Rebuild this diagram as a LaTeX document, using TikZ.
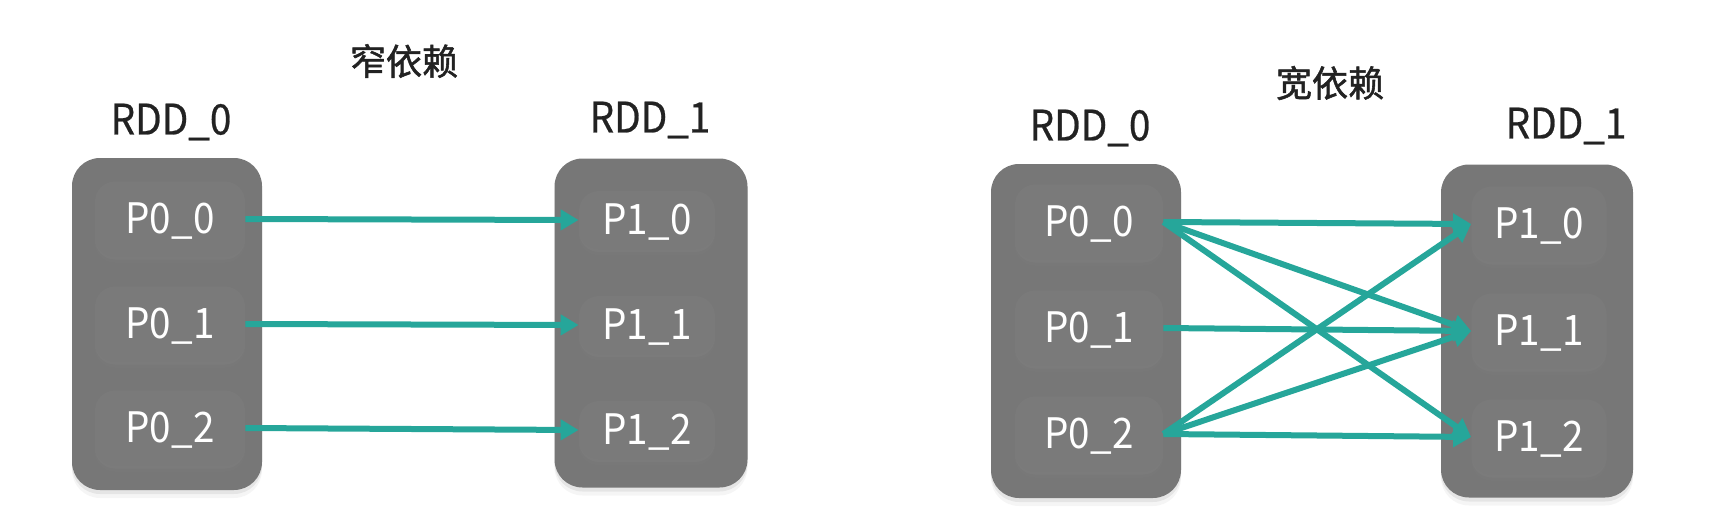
\documentclass[tikz,border=0pt]{standalone}
\usepackage{fontspec}
\setmainfont{Noto Sans CJK SC}
\newfontfamily\partfont[FakeStretch=0.92]{Noto Sans CJK SC}
\newfontfamily\namefont[FakeStretch=0.92,FakeBold=0.6]{Noto Sans CJK SC}
\newfontfamily\headfont[FakeBold=1.5]{Noto Sans CJK SC}
\usetikzlibrary{arrows.meta,shadows}
\definecolor{boxgray}{RGB}{119,119,119}
\definecolor{partgray}{RGB}{122,122,122}
\definecolor{depteal}{RGB}{38,166,154}
\definecolor{ink}{RGB}{34,34,34}
\newcommand\bigtext{\partfont\fontsize{21}{25}\selectfont}

\begin{document}
\begin{tikzpicture}[x=0.5pt, y=-0.5pt,
    rddbox/.style={fill=boxgray, rounded corners=14pt, inner sep=0pt,
        drop shadow={shadow xshift=0pt, shadow yshift=-2pt, opacity=.14},
        drop shadow={shadow xshift=0pt, shadow yshift=-4pt, opacity=.08}},
    part/.style={fill=partgray, rounded corners=10pt, inner sep=0pt, text=white,
        font=\bigtext, text height=14pt, text depth=0pt,
        drop shadow={shadow xshift=0pt, shadow yshift=-1.5pt, opacity=.35},
        drop shadow={shadow xshift=0pt, shadow yshift=-3pt, opacity=.2}},
    rddname/.style={text=ink, font=\namefont\fontsize{21}{25}\selectfont},
    headline/.style={text=ink, font=\headfont\fontsize{18}{22}\selectfont},
    dep/.style={-{Triangle[length=9pt,width=10pt]}, line width=3pt, depteal}]
\useasboundingbox (0, 0) rectangle (1736, 514);

%narrow dependency
\node at (404, 61) [headline] (nt) {窄依赖};
\node at (171, 122) [rddname] (nn0) {RDD\_0};
\node at (650, 120) [rddname] (nn1) {RDD\_1};

\node at (167, 324) [rddbox, minimum width=95pt, minimum height=166pt] (nA) {};
\node at (651, 323) [rddbox, minimum width=96.5pt, minimum height=164.5pt] (nB) {};

\node at (170, 219) [part, minimum width=75pt, minimum height=37.5pt] (na0) {P0\_0};
\node at (170, 324) [part, minimum width=75pt, minimum height=37.5pt] (na1) {P0\_1};
\node at (170, 428) [part, minimum width=75pt, minimum height=37.5pt] (na2) {P0\_2};

\node at (647, 220) [part, minimum width=68pt, minimum height=29pt] (nb0) {P1\_0};
\node at (647, 325) [part, minimum width=68pt, minimum height=29pt] (nb1) {P1\_1};
\node at (647, 430) [part, minimum width=68pt, minimum height=29pt] (nb2) {P1\_2};

\draw [dep] (na0.east) -- (nb0.west);
\draw [dep] (na1.east) -- (nb1.west);
\draw [dep] (na2.east) -- (nb2.west);

%wide dependency
\node at (1330, 83) [headline] (wt) {宽依赖};
\node at (1090, 128) [rddname] (wn0) {RDD\_0};
\node at (1566, 126) [rddname] (wn1) {RDD\_1};

\node at (1086, 331) [rddbox, minimum width=95pt, minimum height=167pt] (wA) {};
\node at (1537, 331) [rddbox, minimum width=96pt, minimum height=166.5pt] (wB) {};

\node at (1089, 222) [part, minimum width=74pt, minimum height=37.5pt] (wa0) {P0\_0};
\node at (1089, 328) [part, minimum width=74pt, minimum height=37.5pt] (wa1) {P0\_1};
\node at (1089, 434) [part, minimum width=74pt, minimum height=37.5pt] (wa2) {P0\_2};

\node at (1539, 224) [part, minimum width=67.5pt, minimum height=37.5pt] (wb0) {P1\_0};
\node at (1539, 331) [part, minimum width=67.5pt, minimum height=37.5pt] (wb1) {P1\_1};
\node at (1539, 437) [part, minimum width=67.5pt, minimum height=37.5pt] (wb2) {P1\_2};

\draw [dep] (wa0.east) -- (wb0.west);
\draw [dep] (wa0.east) -- (wb1.west);
\draw [dep] (wa0.east) -- (wb2.west);
\draw [dep] (wa1.east) -- (wb1.west);
\draw [dep] (wa2.east) -- (wb0.west);
\draw [dep] (wa2.east) -- (wb1.west);
\draw [dep] (wa2.east) -- (wb2.west);
\end{tikzpicture}
\end{document}
